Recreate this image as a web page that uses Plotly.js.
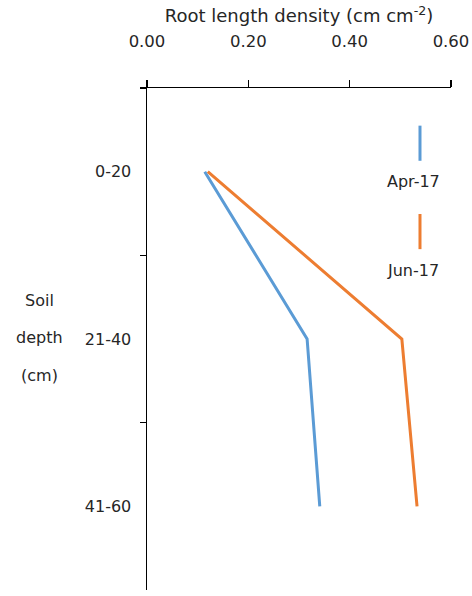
<!DOCTYPE html>
<html>
<head>
<meta charset="utf-8">
<script src="https://cdn.plot.ly/plotly-3.0.1.min.js"></script>
<style>
  html, body { margin: 0; padding: 0; background: #fff; }
  #chart { width: 472px; height: 596px; }
</style>
</head>
<body>
<div id="chart"></div>
<script>
// Soil depth classes (top to bottom) and root length density per sampling date
const depths = ['0-20', '21-40', '41-60'];
const apr17 = [0.114, 0.316, 0.341];
const jun17 = [0.120, 0.503, 0.533];
const xTicks = [0, 0.2, 0.4, 0.6];
const xTickText = ['0.00', '0.20', '0.40', '0.60'];

const BLUE = '#5B9BD5';
const ORANGE = '#ED7D31';
const FONT = 'DejaVu Sans, Verdana, sans-serif';
const TEXT = '#262626';
const FS = 16;

const traces = [
  { x: apr17, y: depths, name: 'Apr-17', type: 'scatter', mode: 'lines',
    line: { color: BLUE, width: 3 } },
  { x: jun17, y: depths, name: 'Jun-17', type: 'scatter', mode: 'lines',
    line: { color: ORANGE, width: 3 } }
];

// Legend: short vertical swatch with the series name underneath
const legendItems = [
  { name: 'Apr-17', color: BLUE, y0: 0.925, y1: 0.855, ty: 0.813 },
  { name: 'Jun-17', color: ORANGE, y0: 0.749, y1: 0.679, ty: 0.637 }
];

const shapes = legendItems.map(it => ({
  type: 'line', xref: 'paper', yref: 'paper',
  x0: 0.898, x1: 0.898, y0: it.y0, y1: it.y1,
  line: { color: it.color, width: 3 }
}));

const annotations = legendItems.map(it => ({
  text: it.name, xref: 'paper', yref: 'paper', x: 0.876, y: it.ty,
  showarrow: false, xanchor: 'center', yanchor: 'middle',
  font: { family: FONT, size: FS, color: TEXT }
}));

// Y title split over three centred lines
['Soil', 'depth', '(cm)'].forEach((w, i) => {
  annotations.push({
    text: w, xref: 'paper', yref: 'paper', x: -0.355, y: 0.576 - i * 0.074,
    showarrow: false, xanchor: 'center', yanchor: 'middle',
    font: { family: FONT, size: FS, color: TEXT }
  });
});

const layout = {
  width: 472, height: 596,
  margin: { l: 147, r: 21, t: 88, b: 6 },
  paper_bgcolor: '#fff', plot_bgcolor: '#fff',
  showlegend: false,
  font: { family: FONT, size: FS, color: TEXT },
  xaxis: {
    side: 'top', range: [0, 0.6],
    tickvals: xTicks, ticktext: xTickText,
    tickfont: { family: FONT, size: 16.5, color: TEXT },
    ticks: 'outside', ticklen: 7, tickwidth: 1.5, tickcolor: '#000',
    ticklabelstandoff: 26,
    showline: true, linecolor: '#000', linewidth: 1.5,
    showgrid: false, zeroline: false,
    title: { text: 'Root length density (cm cm<sup>-2</sup>)', standoff: 4,
             font: { family: FONT, size: 18, color: TEXT } }
  },
  yaxis: {
    type: 'category', categoryorder: 'array', categoryarray: depths,
    range: [2.5, -0.5],
    tickson: 'boundaries',
    ticks: 'outside', ticklen: 6, tickwidth: 1.5, tickcolor: '#000',
    ticklabelstandoff: 11,
    showline: true, linecolor: '#000', linewidth: 1.5,
    showgrid: false, zeroline: false
  },
  shapes: shapes,
  annotations: annotations
};

Plotly.newPlot('chart', traces, layout, { displayModeBar: false, staticPlot: true });
</script>
</body>
</html>
